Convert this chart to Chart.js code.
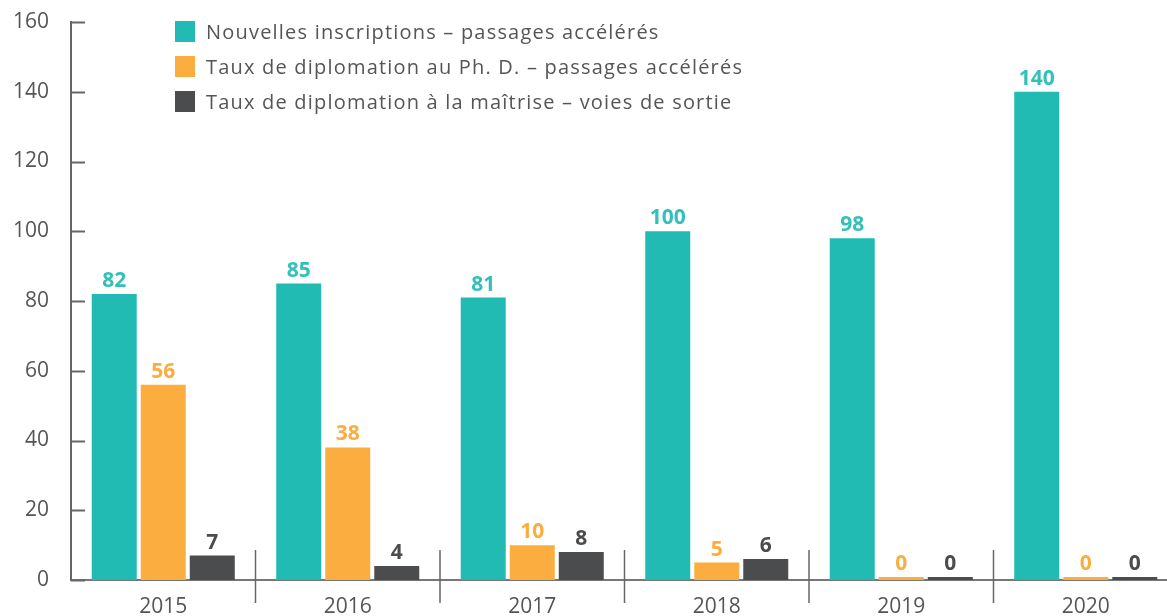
<!DOCTYPE html>
<html>
<head>
<meta charset="utf-8">
<script src="https://cdn.jsdelivr.net/npm/chart.js@4/dist/chart.umd.min.js"></script>
<style>
  html, body { margin: 0; padding: 0; background: #fff; overflow: hidden; }
  #wrap { position: relative; width: 1167px; height: 616px; overflow: hidden; }
  #chart { position: absolute; left: 0; top: 0; }
  #legend { position: absolute; left: 175px; top: 21px; font-family: "Open Sans", sans-serif; font-size: 20px; letter-spacing: 1.2px; color: #555; }
  #legend div { height: 35px; line-height: 21px; white-space: nowrap; }
  #legend span { display: inline-block; width: 20px; height: 21px; vertical-align: top; margin-right: 11px; }
</style>
</head>
<body>
<div id="wrap">
  <canvas id="chart" width="1180" height="616"></canvas>
  <div id="legend"></div>
</div>
<script>
// data
var years = ["2015", "2016", "2017", "2018", "2019", "2020"];
var seriesNames = [
    "Nouvelles inscriptions – passages accélérés",
    "Taux de diplomation au Ph. D. – passages accélérés",
    "Taux de diplomation à la maîtrise – voies de sortie"
];
var inscriptions = [82, 85, 81, 100, 98, 140];
var diplomationPhd = [56, 38, 10, 5, 0, 0];
var diplomationMaitrise = [7, 4, 8, 6, 0, 0];
var yTicks = [0, 20, 40, 60, 80, 100, 120, 140, 160];

var colors = ["#21bbb4", "#fbae3f", "#4b4c4e"];
var labelColors = ["#34c0b9", "#fbae3f", "#4b4c4e"];
var allValues = [inscriptions, diplomationPhd, diplomationMaitrise];
var fontFamily = "'Open Sans', sans-serif";

// html legend
var legendHtml = "";
for (var i = 0; i < seriesNames.length; i++) {
    legendHtml += '<div><span style="background:' + colors[i] + '"></span>' + seriesNames[i] + '</div>';
}
document.getElementById("legend").innerHTML = legendHtml;

// value labels above bars
var valueLabels = {
    id: "valueLabels",
    afterDatasetsDraw: function(chart) {
        var ctx = chart.ctx;
        ctx.save();
        ctx.font = "bold 21px " + fontFamily;
        ctx.textAlign = "center";
        ctx.textBaseline = "alphabetic";
        chart.data.datasets.forEach(function(ds, d) {
            var meta = chart.getDatasetMeta(d);
            meta.data.forEach(function(bar, i) {
                ctx.fillStyle = labelColors[d];
                ctx.fillText(ds.data[i], bar.x, bar.y - 7);
            });
        });
        ctx.restore();
    }
};

// inward ticks on y axis + separators between years
var axisExtras = {
    id: "axisExtras",
    afterDraw: function(chart) {
        var ctx = chart.ctx;
        var area = chart.chartArea;
        var y = chart.scales.y;
        var x = chart.scales.x;
        ctx.save();
        ctx.strokeStyle = "#666";
        ctx.lineWidth = 2;
        y.ticks.forEach(function(t) {
            var py = Math.round(y.getPixelForValue(t.value)) + 0.5;
            ctx.beginPath();
            ctx.moveTo(area.left, py);
            ctx.lineTo(area.left + 14, py);
            ctx.stroke();
        });
        ctx.lineWidth = 1.5;
        var base = y.getPixelForValue(0);
        for (var i = 1; i < years.length; i++) {
            var px = (x.getPixelForValue(i - 1) + x.getPixelForValue(i)) / 2;
            ctx.beginPath();
            ctx.moveTo(px, base - 30);
            ctx.lineTo(px, base + 23);
            ctx.stroke();
        }
        ctx.restore();
    }
};

var ctx = document.getElementById("chart");
var chart = new Chart(ctx, {
    type: "bar",
    data: {
        labels: years,
        datasets: seriesNames.map(function(name, i) {
            return {
                label: name,
                data: allValues[i],
                backgroundColor: colors[i],
                borderWidth: 0,
                minBarLength: 3,
                categoryPercentage: 0.797,
                barPercentage: 0.918
            };
        })
    },
    options: {
        responsive: false,
        animation: false,
        layout: { padding: { top: 22, right: 2, left: 0, bottom: 0 } },
        plugins: {
            legend: { display: false },
            tooltip: { enabled: false }
        },
        scales: {
            x: {
                grid: { display: false, drawTicks: false },
                border: { display: true, color: "#777", width: 2 },
                ticks: {
                    padding: 14,
                    color: "#555",
                    font: { family: fontFamily, size: 21 }
                },
                afterFit: function(scale) { scale.height = 36; }
            },
            y: {
                min: 0,
                max: 160,
                afterBuildTicks: function(scale) {
                    scale.ticks = yTicks.map(function(v) { return { value: v }; });
                },
                grid: { display: false, drawTicks: false },
                border: { display: true, color: "#666", width: 2 },
                ticks: {
                    padding: 22,
                    color: "#555",
                    font: { family: fontFamily, size: 21 }
                },
                afterFit: function(scale) {
                    scale.width = 71;
                    scale.paddingTop = 0;
                    scale.paddingBottom = 0;
                }
            }
        }
    },
    plugins: [valueLabels, axisExtras]
});
</script>
</body>
</html>
